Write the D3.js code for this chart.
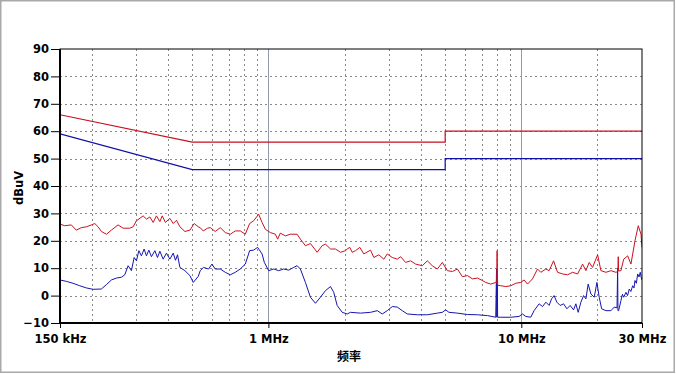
<!DOCTYPE html>
<html><head><meta charset="utf-8">
<script src="https://cdn.jsdelivr.net/npm/d3@7"></script>
<style>html,body{margin:0;padding:0;background:#fff;}svg{display:block;}</style>
</head><body><div id="chart"></div>
<script>
// ---- data ----
const xTickValues = [0.15, 1, 10, 30];
const xTickLabels = ["150 kHz", "1 MHz", "10 MHz", "30 MHz"];
const yTickValues = [-10, 0, 10, 20, 30, 40, 50, 60, 70, 80, 90];
const minorGridFreq = [0.2,0.3,0.4,0.5,0.6,0.7,0.8,0.9,2,3,4,5,6,7,8,9,20];
const majorGridFreq = [1, 10];

const limitFreq = [0.15, 0.5, 5, 5, 30];
const qpLimit   = [66, 56, 56, 60, 60];
const avgLimit  = [59, 46, 46, 50, 50];

const peakFreq = [0.150,0.1566,0.1663,0.1740,0.1822,0.1907,0.1996,0.2059,0.2122,0.2187,0.2289,0.2395,0.2545,0.2664,0.2832,0.2918,0.3008,0.3197,0.3295,0.3400,0.3503,0.3610,0.3724,0.3803,0.3918,0.4079,0.4204,0.4332,0.4468,0.4677,0.4895,0.5090,0.5280,0.5377,0.5527,0.5747,0.5891,0.6165,0.6453,0.6753,0.7069,0.7398,0.7743,0.8105,0.8430,0.8743,0.9151,0.9439,0.9728,1.018,1.066,1.088,1.115,1.167,1.222,1.299,1.338,1.401,1.466,1.559,1.631,1.681,1.760,1.842,1.928,2.018,2.049,2.098,2.145,2.210,2.299,2.384,2.534,2.612,2.733,2.861,2.951,3.089,3.233,3.332,3.487,3.650,3.820,4.060,4.250,4.448,4.656,4.873,5.100,5.338,5.587,5.848,6.121,6.406,6.705,7.018,7.233,7.570,7.923,7.99,8.02,8.06,8.293,8.679,9.084,9.508,9.952,10.256,10.58,11.07,11.59,11.94,12.50,12.88,13.41,13.91,14.56,15.24,15.95,16.69,17.47,18.00,18.55,19.13,20.03,20.64,21.60,22.61,23.66,24.08,24.17,24.25,24.77,25.39,26.33,27.13,28.14,29.00,29.73,30.0];
const peakVal = [26.1,25.5,25.8,23.9,24.8,25.1,25.8,26.3,25.1,23.4,22.4,23.9,25.8,24.6,24.6,25.1,27.3,29.1,27.9,28.7,26.7,29.1,27.0,29.1,26.7,28.2,26.3,27.5,25.1,23.4,23.9,26.3,25.1,24.8,23.6,24.6,24.8,23.4,24.8,23.0,22.4,23.6,23.6,22.4,26.3,27.3,29.7,26.7,24.2,23.0,22.4,20.6,22.8,21.8,22.4,22.4,20.6,18.2,19.0,15.8,18.2,18.8,17.0,17.0,15.8,16.4,17.0,17.6,15.8,16.4,17.6,15.2,16.6,13.9,14.9,13.3,15.2,13.9,13.3,14.2,12.1,12.7,11.5,10.9,12.7,10.9,9.7,12.1,9.1,8.8,9.7,6.9,7.3,6.1,6.4,5.5,4.8,4.2,4.8,4.5,16.4,3.8,3.6,3.3,3.6,4.5,4.8,5.7,4.2,6.1,9.7,8.5,9.7,9.1,12.7,8.5,7.9,7.6,8.5,7.9,11.5,9.1,12.1,10.3,14.9,9.1,8.5,9.1,8.5,8.8,14.2,9.0,9.1,13.3,14.5,11.5,20.0,25.5,22.4,17.6];

const avgFreq = [0.150,0.1589,0.1689,0.1795,0.1907,0.2027,0.2186,0.2288,0.2395,0.2506,0.2623,0.2706,0.2789,0.2874,0.2946,0.3008,0.3075,0.3148,0.3227,0.3295,0.3368,0.3449,0.3558,0.3643,0.3723,0.3837,0.3954,0.4079,0.4204,0.4293,0.4372,0.4468,0.4677,0.4895,0.5045,0.5280,0.5377,0.5541,0.5800,0.5982,0.6165,0.6453,0.6753,0.7069,0.7398,0.7743,0.8105,0.8430,0.8743,0.9067,0.9439,0.9639,1.0024,1.0491,1.098,1.149,1.203,1.259,1.299,1.338,1.401,1.466,1.535,1.606,1.681,1.760,1.813,1.870,1.958,2.049,2.112,2.313,2.534,2.694,2.819,2.951,3.089,3.233,3.383,3.541,3.879,4.250,4.656,4.873,5.022,5.175,5.587,6.121,6.705,7.346,7.923,7.98,8.00,8.03,8.06,8.293,9.084,9.798,10.106,10.415,10.90,11.23,11.76,12.13,12.50,12.88,13.17,13.48,13.82,14.24,14.69,15.14,15.60,16.09,16.43,16.78,17.20,17.63,18.00,18.38,18.84,19.42,19.90,20.32,20.77,21.60,22.61,23.30,23.9,24.03,24.10,24.25,24.77,25.1,25.39,25.92,26.3,26.72,27.1,27.56,27.9,28.14,28.5,28.84,29.2,29.53,29.8,30.0];
const avgVal = [5.7,5.2,4.5,3.6,2.8,2.3,2.4,4.0,5.7,6.4,6.7,7.6,10.9,9.1,13.9,12.7,16.4,14.5,17.0,14.5,16.6,14.2,16.4,13.9,16.2,13.3,15.5,13.3,15.5,12.9,14.9,10.3,9.1,7.3,4.8,7.0,9.1,10.3,9.7,11.5,9.7,9.7,8.5,7.6,8.5,9.7,11.5,16.4,16.6,17.6,15.2,12.1,9.1,9.7,9.1,9.7,9.3,10.3,10.9,9.7,4.8,-0.6,-2.8,-0.6,1.8,3.3,1.2,-3.6,-6.1,-6.7,-6.1,-6.4,-6.1,-5.5,-6.7,-5.5,-4.0,-4.2,-5.5,-6.7,-7.0,-7.0,-6.4,-6.1,-5.2,-6.1,-6.4,-6.9,-7.0,-7.3,-7.9,9.7,-7.9,9.5,-7.9,-7.9,-7.9,-7.6,-6.7,-7.6,-7.9,-5.5,-3.0,-4.0,-2.4,-3.6,-1.2,0.0,-2.4,-3.6,-3.0,-4.8,-3.6,-5.2,-3.0,-6.1,-2.4,0.0,-1.2,4.2,0.6,-0.6,4.8,-0.6,-4.8,-5.5,-5.5,-4.2,-4.5,10.0,-5.5,-5.5,-1.8,0.5,-0.6,1.2,0.0,2.4,1.5,3.6,2.8,5.5,4.5,7.9,6.8,8.5,6.5,5.7];

// ---- layout ----
const W = 676, H = 374;
const L = 60, R = 642, T = 49, B = 323;
const svg = d3.select("#chart").append("svg").attr("width", W).attr("height", H);

svg.append("rect").attr("x", 0.75).attr("y", 0.75).attr("width", W - 2.5).attr("height", H - 2.5)
  .attr("fill", "#fff").attr("stroke", "#a9a9a9").attr("stroke-width", 1.5);

const x = d3.scaleLog().domain([0.15, 30]).range([L, R]);
const y = d3.scaleLinear().domain([-10, 90]).range([B, T]);

svg.append("defs").append("clipPath").attr("id", "clip")
  .append("rect").attr("x", L).attr("y", T).attr("width", R - L).attr("height", B - T);

// grid
const g = svg.append("g");
g.selectAll("line.hg").data(yTickValues.filter(v => v > -10 && v < 90)).join("line")
  .attr("x1", L).attr("x2", R).attr("y1", d => Math.round(y(d)) + 0.5).attr("y2", d => Math.round(y(d)) + 0.5)
  .attr("stroke", "#8a8a8a").attr("stroke-width", 1).attr("stroke-dasharray", "2,3");
g.selectAll("line.vg").data(minorGridFreq).join("line")
  .attr("y1", T).attr("y2", B).attr("x1", d => Math.round(x(d)) + 0.5).attr("x2", d => Math.round(x(d)) + 0.5)
  .attr("stroke", "#8a8a8a").attr("stroke-width", 1).attr("stroke-dasharray", "2,3");
g.selectAll("line.mg").data(majorGridFreq).join("line")
  .attr("y1", T).attr("y2", B).attr("x1", d => Math.round(x(d)) + 0.5).attr("x2", d => Math.round(x(d)) + 0.5)
  .attr("stroke", "#8f9aae").attr("stroke-width", 1);

const plot = svg.append("g").attr("clip-path", "url(#clip)");
const line = d3.line().x(d => x(d[0])).y(d => y(d[1]));

function pairs(fs, vs) { return fs.map((f, i) => [f, vs[i]]); }

plot.append("path").datum(pairs(limitFreq, qpLimit)).attr("d", line)
  .attr("fill", "none").attr("stroke", "#c8101e").attr("stroke-width", 1.2);
plot.append("path").datum(pairs(limitFreq, avgLimit)).attr("d", line)
  .attr("fill", "none").attr("stroke", "#1010a8").attr("stroke-width", 1.2);
plot.append("path").datum(pairs(avgFreq, avgVal)).attr("d", line)
  .attr("fill", "none").attr("stroke", "#1515b0").attr("stroke-width", 1);
plot.append("path").datum(pairs(peakFreq, peakVal)).attr("d", line)
  .attr("fill", "none").attr("stroke", "#cc1020").attr("stroke-width", 1);

// frame
svg.append("rect").attr("x", L).attr("y", T).attr("width", R - L).attr("height", B - T)
  .attr("fill", "none").attr("stroke", "#000").attr("stroke-width", 1);
svg.append("line").attr("x1", L).attr("x2", L).attr("y1", T).attr("y2", B + 1).attr("stroke", "#000").attr("stroke-width", 2);
svg.append("line").attr("x1", L - 1).attr("x2", R).attr("y1", B).attr("y2", B).attr("stroke", "#000").attr("stroke-width", 2);

// axes
const font = "'DejaVu Sans', Verdana, sans-serif";
const yAxis = svg.append("g").attr("transform", `translate(${L},0)`)
  .call(d3.axisLeft(y).tickValues(yTickValues).tickSize(9).tickPadding(2).tickFormat(d3.format("d")));
yAxis.select(".domain").remove();
yAxis.selectAll("line").attr("stroke", "#000");
yAxis.selectAll("text").attr("font-family", font).attr("font-weight", "bold").attr("font-size", "11.5px").attr("fill", "#000");

const xAxis = svg.append("g").attr("transform", `translate(0,${B})`)
  .call(d3.axisBottom(x).tickValues(xTickValues).tickSize(5).tickPadding(7).tickFormat((d, i) => xTickLabels[i]));
xAxis.select(".domain").remove();
xAxis.selectAll("line").attr("stroke", "#000");
xAxis.selectAll("text").attr("font-family", font).attr("font-weight", "bold").attr("font-size", "11.5px").attr("fill", "#000");

svg.append("text").attr("transform", "translate(23,188) rotate(-90)").attr("text-anchor", "middle")
  .attr("font-family", font).attr("font-weight", "bold").attr("font-size", "11.5px").text("dBuV");
svg.append("text").attr("x", 349).attr("y", 361).attr("text-anchor", "middle")
  .attr("font-family", "'Noto Sans CJK SC', sans-serif").attr("font-weight", "bold").attr("font-size", "12px").text("频率");
</script></body></html>
